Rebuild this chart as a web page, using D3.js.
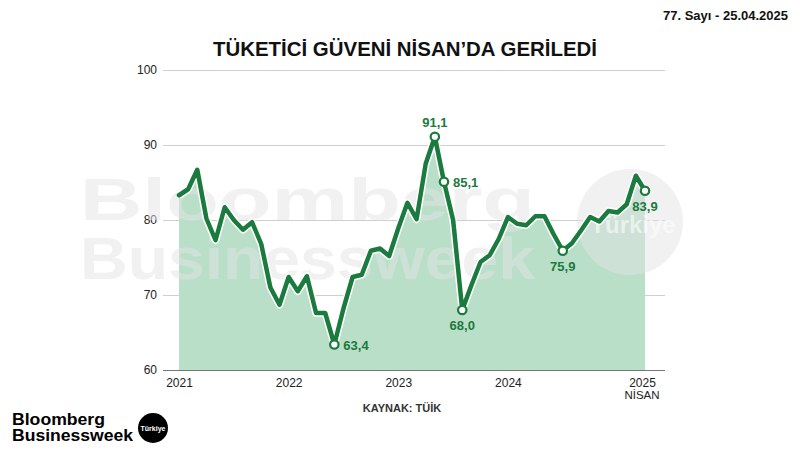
<!DOCTYPE html>
<html><head><meta charset="utf-8">
<script src="https://cdn.jsdelivr.net/npm/d3@7"></script>
<style>
html,body{margin:0;padding:0;background:#fff;}
svg{display:block;font-family:"Liberation Sans",Arial,sans-serif;}
</style></head>
<body>
<svg id="c" width="800" height="450"></svg>
<script>
// ---- DATA ----
const months = d3.range(52); // Jan 2021 .. Apr 2025
const values = [
  83.3, 84.1, 86.7, 80.2, 77.3, 81.7, 80.0, 78.7, 79.7, 76.8, 71.0, 68.7, // 2021
  72.4, 70.5, 72.5, 67.6, 67.6, 63.4, 68.2, 72.4, 72.7, 75.9, 76.2, 75.2, // 2022
  78.9, 82.3, 80.1, 87.5, 91.1, 85.1, 80.0, 68.0, 71.3, 74.4, 75.3, 77.5, // 2023
  80.4, 79.5, 79.3, 80.5, 80.5, 78.1, 75.9, 76.9, 78.6, 80.4, 79.8, 81.2, // 2024
  81.0, 82.1, 85.9, 83.9                                                 // 2025
];
const yTicks = [60, 70, 80, 90, 100];
const xTickIdx = [0, 12, 24, 36, 51];
const xTickLabels = ["2021", "2022", "2023", "2024", "2025"];
const annotIdx = [17, 28, 29, 31, 42, 51];
const annotText = ["63,4", "91,1", "85,1", "68,0", "75,9", "83,9"];
const annotPos = ["right", "top", "right", "bottom", "bottom", "bottom"];

const title = "TÜKETİCİ GÜVENİ NİSAN’DA GERİLEDİ";
const issue = "77. Sayı - 25.04.2025";
const source = "KAYNAK: TÜİK";

// ---- LAYOUT ----
const svg = d3.select("#c");
const green = "#1b7a3d";
const fillGreen = "#b9dfc8";
const x = d3.scaleLinear().domain([0, 51]).range([179, 645]);
const y = d3.scaleLinear().domain([60, 100]).range([370, 70]);
const gridL = 163, gridR = 665;

// top-right issue
svg.append("text").attr("x", 788).attr("y", 20).attr("text-anchor", "end")
  .attr("font-size", 13).attr("font-weight", "bold").attr("fill", "#111").text(issue);

// title
svg.append("text").attr("x", 405).attr("y", 56).attr("text-anchor", "middle")
  .attr("font-size", 20).attr("font-weight", "bold").attr("fill", "#111")
  .attr("textLength", 384).attr("lengthAdjust", "spacingAndGlyphs").text(title);

// grid + y axis
const yAxis = d3.axisLeft(y).tickValues(yTicks).tickSize(-(gridR - gridL)).tickPadding(6)
  .tickFormat(d3.format("d"));
const gy = svg.append("g").attr("transform", `translate(${gridL},0)`).call(yAxis);
gy.select(".domain").remove();
gy.selectAll(".tick line").attr("stroke", d => d === 60 ? "#777" : "#cfcfcf").attr("stroke-width", 1);
gy.selectAll(".tick text").attr("font-size", 12).attr("fill", "#222")
  .attr("font-family", "Liberation Sans, Arial, sans-serif");

// area
const area = d3.area().x((d, i) => x(months[i])).y0(y(60)).y1(d => y(d));
svg.append("path").datum(values).attr("d", area).attr("fill", fillGreen);

// watermark (semi-transparent, lighter over the area)
const wm = svg.append("g").attr("opacity", 0.5).attr("fill", "#e4e4e4")
  .attr("font-weight", "bold").attr("font-size", 60)
  .attr("font-family", "Liberation Sans, Arial, sans-serif");
wm.append("text").attr("x", 80).attr("y", 220).attr("textLength", 455)
  .attr("lengthAdjust", "spacingAndGlyphs").text("Bloomberg");
wm.append("text").attr("x", 80).attr("y", 279).attr("textLength", 455)
  .attr("lengthAdjust", "spacingAndGlyphs").text("Businessweek");
wm.append("circle").attr("cx", 630).attr("cy", 222).attr("r", 53);
svg.append("text").attr("x", 633).attr("y", 233).attr("text-anchor", "middle")
  .attr("font-size", 24).attr("font-weight", "bold").attr("fill", "#fff").attr("opacity", 0.55)
  .text("Türkiye");

// line with white halo
const line = d3.line().x((d, i) => x(months[i])).y(d => y(d));
svg.append("path").datum(values).attr("d", line).attr("fill", "none")
  .attr("stroke", "#fff").attr("stroke-width", 7.5).attr("stroke-linejoin", "round");
svg.append("path").datum(values).attr("d", line).attr("fill", "none")
  .attr("stroke", green).attr("stroke-width", 4.5).attr("stroke-linejoin", "round")
  .attr("stroke-linecap", "round");

// annotation markers
annotIdx.forEach((idx, k) => {
  const cx = x(months[idx]), cy = y(values[idx]);
  svg.append("circle").attr("cx", cx).attr("cy", cy).attr("r", 4.2)
    .attr("fill", "#fff").attr("stroke", green).attr("stroke-width", 2.2);
  let tx = cx, ty = cy, anchor = "middle";
  if (annotPos[k] === "right") { tx = cx + 9; ty = cy + 5; anchor = "start"; }
  if (annotPos[k] === "top") { ty = cy - 10; }
  if (annotPos[k] === "bottom") { ty = cy + 20; }
  svg.append("text").attr("x", tx).attr("y", ty).attr("text-anchor", anchor)
    .attr("font-size", 13).attr("font-weight", "bold").attr("fill", green).text(annotText[k]);
});

// x axis labels
const xAxis = d3.axisBottom(x).tickValues(xTickIdx.map(i => months[i])).tickSize(0).tickPadding(8)
  .tickFormat((d, i) => xTickLabels[i]);
const gx = svg.append("g").attr("transform", `translate(0,${y(60)})`).call(xAxis);
gx.select(".domain").remove();
gx.selectAll(".tick text").attr("font-size", 12).attr("fill", "#222")
  .attr("font-family", "Liberation Sans, Arial, sans-serif");
gx.selectAll(".tick").filter((d, i) => i === xTickIdx.length - 1).select("text")
  .attr("dx", "-3");
svg.append("text").attr("x", x(51) - 3).attr("y", 399).attr("text-anchor", "middle")
  .attr("font-size", 11.5).attr("fill", "#222").text("NİSAN");

// source
svg.append("text").attr("x", 402).attr("y", 412).attr("text-anchor", "middle")
  .attr("font-size", 11).attr("font-weight", "bold").attr("fill", "#333").text(source);

// logo
const lg = svg.append("g").attr("font-weight", "bold").attr("fill", "#000").attr("font-size", 16);
lg.append("text").attr("x", 12).attr("y", 425).attr("textLength", 93)
  .attr("lengthAdjust", "spacingAndGlyphs").text("Bloomberg");
lg.append("text").attr("x", 12).attr("y", 441).attr("textLength", 121)
  .attr("lengthAdjust", "spacingAndGlyphs").text("Businessweek");
svg.append("circle").attr("cx", 153).attr("cy", 428).attr("r", 15).attr("fill", "#000");
svg.append("text").attr("x", 153).attr("y", 430.5).attr("text-anchor", "middle")
  .attr("font-size", 7).attr("font-weight", "bold").attr("fill", "#fff").text("Türkiye");
</script>
</body></html>
